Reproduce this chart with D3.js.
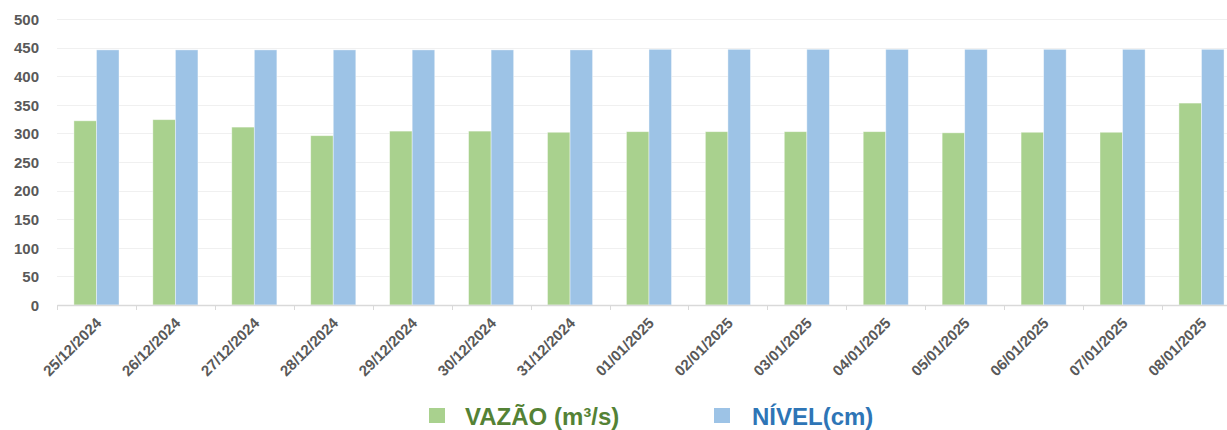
<!DOCTYPE html>
<html><head><meta charset="utf-8">
<script src="https://cdn.jsdelivr.net/npm/d3@7"></script>
<style>body{margin:0;background:#fff;overflow:hidden}</style>
</head><body>
<svg id="c" width="1227" height="430"></svg>
<script>
const categories = ["25/12/2024","26/12/2024","27/12/2024","28/12/2024","29/12/2024","30/12/2024","31/12/2024","01/01/2025","02/01/2025","03/01/2025","04/01/2025","05/01/2025","06/01/2025","07/01/2025","08/01/2025"];
const vazao = [322, 324, 311, 296, 304, 304, 302, 303, 303, 303, 303, 301, 302, 302, 353];
const nivel = [446, 446, 446, 446, 446, 446, 446, 447, 447, 447, 447, 447, 447, 447, 447];
const seriesNames = ["VAZÃO (m³/s)", "NÍVEL(cm)"];
const seriesColors = ["#A9D18E", "#9DC3E6"];
const legendTextColors = ["#548235", "#2E75B6"];
const yTicks = [0,50,100,150,200,250,300,350,400,450,500];

(function(){
const svg = d3.select("#c");
const font = "'Liberation Sans', Arial, sans-serif";
const mLeft = 57, mTop = 19, mBottom = 305;
const step = 78.93;
const x0 = d3.scaleBand().domain(categories).range([mLeft, mLeft + step*categories.length]).padding(0);
const x1 = d3.scaleBand().domain(seriesNames).range([0, x0.bandwidth()]).paddingInner(0).paddingOuter(0.75);
const y = d3.scaleLinear().domain([0,500]).range([mBottom, mTop]);

// gridlines
svg.append("g").selectAll("line").data(yTicks.filter(d=>d>0)).join("line")
  .attr("x1", mLeft).attr("x2", 1227).attr("y1", d=>Math.round(y(d))+0.5).attr("y2", d=>Math.round(y(d))+0.5)
  .attr("stroke", "#F0F0F0").attr("stroke-width", 1);

// y labels
const ya = svg.append("g").attr("transform", `translate(${mLeft - 18},0)`)
  .call(d3.axisLeft(y).tickValues(yTicks).tickSize(0).tickPadding(0));
ya.select(".domain").remove();
ya.selectAll("text").attr("font-family", font).attr("font-weight","bold").attr("font-size", 15).attr("fill", "#595959").attr("dy","0.35em");

// bars
const data = categories.map((c,i)=>({c, vals:[vazao[i], nivel[i]]}));
const g = svg.append("g").selectAll("g").data(data).join("g").attr("transform", d=>`translate(${x0(d.c)},0)`);
g.selectAll("rect").data(d=>d.vals.map((v,j)=>({v, s:seriesNames[j], j}))).join("rect")
  .attr("x", d=>x1(d.s)).attr("width", x1.bandwidth())
  .attr("y", d=>y(d.v)).attr("height", d=>y(0)-y(d.v))
  .attr("fill", d=>seriesColors[d.j]).attr("stroke", "#ffffff").attr("stroke-opacity",0.5).attr("stroke-width", 0.8);

// x axis
const xa = svg.append("g").attr("transform", `translate(0,${mBottom})`)
  .call(d3.axisBottom(x0).tickSize(0).tickPadding(0));
xa.select(".domain").attr("stroke", "#D9D9D9").attr("stroke-width", 1.5);
xa.selectAll(".tick line").remove();
svg.append("g").selectAll("line").data(categories.concat(["__end"])).join("line")
  .attr("x1", (d,i)=>Math.round(mLeft + i*x0.step())+0.5).attr("x2", (d,i)=>Math.round(mLeft + i*x0.step())+0.5)
  .attr("y1", mBottom).attr("y2", mBottom+5).attr("stroke","#D9D9D9").attr("stroke-width",1);
xa.selectAll("text").attr("font-family", font).attr("font-weight","bold").attr("font-size", 15).attr("fill", "#595959")
  .attr("text-anchor","end").attr("dy", null)
  .attr("transform", "translate(6,19) rotate(-45)");

// legend
const leg = svg.append("g");
const legX = [429, 714];
const legTX = [465, 752];
seriesNames.forEach((s,i)=>{
  leg.append("rect").attr("x", legX[i]).attr("y", 408).attr("width", 16).attr("height", 15).attr("fill", seriesColors[i]);
  leg.append("text").attr("x", legTX[i]).attr("y", 425).text(s)
    .attr("font-family", font).attr("font-weight","bold").attr("font-size", 24).attr("fill", legendTextColors[i]);
});
})();
</script>
</body></html>
